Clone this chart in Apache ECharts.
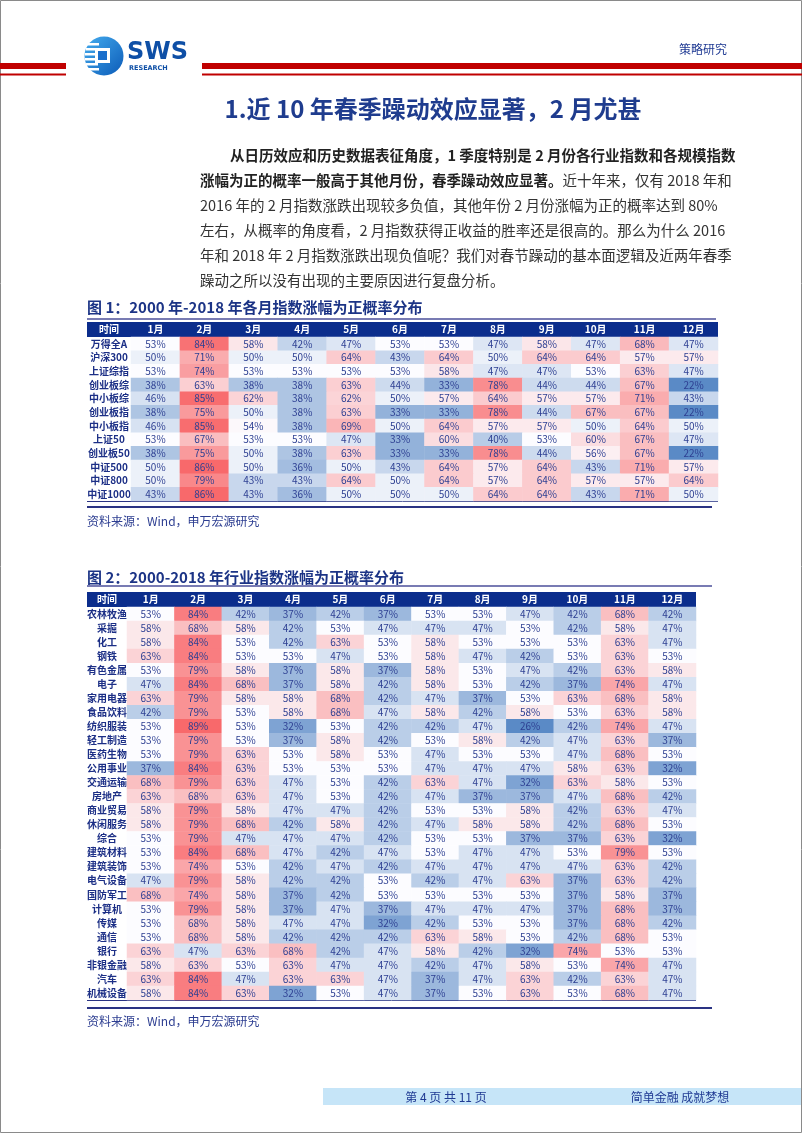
<!DOCTYPE html>
<html>
<head>
<meta charset="utf-8">
<script src="https://cdn.jsdelivr.net/npm/echarts@6/dist/echarts.min.js"></script>
<style>
html, body { margin: 0; padding: 0; background: #fff; }
#main { width: 802px; height: 1133px; }
</style>
</head>
<body>
<div id="main"></div>
<script>
var months = ['1月', '2月', '3月', '4月', '5月', '6月', '7月', '8月', '9月', '10月', '11月', '12月'];

// 图1：各规模指数
var indexNames = ['万得全A', '沪深300', '上证综指', '创业板综', '中小板综', '创业板指', '中小板指', '上证50', '创业板50', '中证500', '中证800', '中证1000'];
var indexValues = [
  [53, 84, 58, 42, 47, 53, 53, 47, 58, 47, 68, 47],
  [50, 71, 50, 50, 64, 43, 64, 50, 64, 64, 57, 57],
  [53, 74, 53, 53, 53, 53, 58, 47, 47, 53, 63, 47],
  [38, 63, 38, 38, 63, 44, 33, 78, 44, 44, 67, 22],
  [46, 85, 62, 38, 62, 50, 57, 64, 57, 57, 71, 43],
  [38, 75, 50, 38, 63, 33, 33, 78, 44, 67, 67, 22],
  [46, 85, 54, 38, 69, 50, 64, 57, 57, 50, 64, 50],
  [53, 67, 53, 53, 47, 33, 60, 40, 53, 60, 67, 47],
  [38, 75, 50, 38, 63, 33, 33, 78, 44, 56, 67, 22],
  [50, 86, 50, 36, 50, 43, 64, 57, 64, 43, 71, 57],
  [50, 79, 43, 43, 64, 50, 64, 57, 64, 57, 57, 64],
  [43, 86, 43, 36, 50, 50, 50, 64, 64, 43, 71, 50]
];

// 图2：行业指数
var industryNames = ['农林牧渔', '采掘', '化工', '钢铁', '有色金属', '电子', '家用电器', '食品饮料', '纺织服装', '轻工制造',
  '医药生物', '公用事业', '交通运输', '房地产', '商业贸易', '休闲服务', '综合', '建筑材料', '建筑装饰', '电气设备',
  '国防军工', '计算机', '传媒', '通信', '银行', '非银金融', '汽车', '机械设备'];
var industryValues = [
  [53, 84, 42, 37, 42, 37, 53, 53, 47, 42, 68, 42],
  [58, 68, 58, 42, 53, 47, 47, 47, 53, 42, 58, 47],
  [58, 84, 53, 42, 63, 53, 58, 53, 53, 53, 63, 47],
  [63, 84, 53, 53, 47, 53, 58, 47, 42, 53, 63, 53],
  [53, 79, 58, 37, 58, 37, 58, 53, 47, 42, 63, 58],
  [47, 84, 68, 37, 58, 42, 58, 53, 42, 37, 74, 47],
  [63, 79, 58, 58, 68, 42, 47, 37, 53, 63, 68, 58],
  [42, 79, 53, 58, 68, 47, 58, 42, 58, 53, 63, 58],
  [53, 89, 53, 32, 53, 42, 42, 47, 26, 42, 74, 47],
  [53, 79, 53, 37, 58, 42, 53, 58, 42, 47, 63, 37],
  [53, 79, 63, 53, 58, 53, 47, 53, 53, 47, 68, 53],
  [37, 84, 63, 53, 53, 53, 47, 47, 47, 58, 63, 32],
  [68, 79, 63, 47, 53, 42, 63, 47, 32, 63, 58, 53],
  [63, 68, 63, 47, 53, 42, 47, 37, 37, 47, 68, 42],
  [58, 79, 58, 47, 47, 42, 53, 53, 58, 42, 63, 47],
  [58, 79, 68, 42, 58, 42, 47, 58, 58, 42, 68, 53],
  [53, 79, 47, 47, 47, 42, 53, 53, 37, 37, 63, 32],
  [53, 84, 68, 47, 42, 47, 53, 47, 47, 53, 79, 53],
  [53, 74, 53, 42, 47, 42, 47, 47, 47, 47, 63, 42],
  [47, 79, 58, 42, 42, 53, 42, 47, 63, 37, 63, 42],
  [68, 74, 58, 37, 42, 53, 53, 53, 53, 37, 58, 37],
  [53, 79, 58, 37, 47, 37, 47, 47, 47, 37, 68, 37],
  [53, 68, 58, 47, 47, 32, 42, 53, 53, 37, 68, 42],
  [53, 68, 58, 42, 42, 42, 63, 58, 53, 42, 68, 53],
  [63, 47, 63, 68, 42, 47, 58, 42, 32, 74, 53, 53],
  [58, 63, 53, 63, 47, 47, 42, 47, 58, 53, 74, 47],
  [63, 84, 47, 63, 63, 47, 37, 47, 63, 42, 63, 47],
  [58, 84, 63, 32, 53, 47, 37, 53, 63, 53, 68, 47]
];

var paragraph = [
  '从日历效应和历史数据表征角度，1 季度特别是 2 月份各行业指数和各规模指数',
  '涨幅为正的概率一般高于其他月份，春季躁动效应显著。',
  '近十年来，仅有 2018 年和',
  '2016 年的 2 月指数涨跌出现较多负值，其他年份 2 月份涨幅为正的概率达到 80%',
  '左右，从概率的角度看，2 月指数获得正收益的胜率还是很高的。那么为什么 2016',
  '年和 2018 年 2 月指数涨跌出现负值呢？我们对春节躁动的基本面逻辑及近两年春季',
  '躁动之所以没有出现的主要原因进行复盘分析。'
];

var FONT = '"Noto Sans CJK SC", "Noto Sans", sans-serif';
var NAVY = '#1c2f86';

function toCells(rows) {
  var out = [];
  rows.forEach(function (row, y) {
    row.forEach(function (v, x) { out.push([x, y, v]); });
  });
  return out;
}
function flat(rows) { return [].concat.apply([], rows); }

// excel style red - white - blue colour scale, white at the middle value
function rgb(h) { return [parseInt(h.substr(1, 2), 16), parseInt(h.substr(3, 2), 16), parseInt(h.substr(5, 2), 16)]; }
function mix(a, b, t) {
  var ca = rgb(a), cb = rgb(b);
  return 'rgb(' + ca.map(function (c, i) { return Math.round(c + (cb[i] - c) * t); }).join(',') + ')';
}
function scaleColors(min, mid, max) {
  var blue = '#5A8AC6', white = '#FCFCFF', red = '#F8696B';
  var out = [];
  for (var v = min; v <= max; v++) {
    out.push(v <= mid ? mix(blue, white, (v - min) / (mid - min)) : mix(white, red, (v - mid) / (max - mid)));
  }
  return out;
}

var min1 = Math.min.apply(null, flat(indexValues)), max1 = Math.max.apply(null, flat(indexValues));
var min2 = Math.min.apply(null, flat(industryValues)), max2 = Math.max.apply(null, flat(industryValues));

function xAxisFor(i) {
  return {
    type: 'category', data: months, gridIndex: i, position: 'top', z: 10,
    axisLine: { show: false }, axisTick: { show: false }, splitLine: { show: false },
    axisLabel: { color: '#fff', fontWeight: 'bold', fontSize: 10, fontFamily: FONT, margin: 7.5, verticalAlign: 'middle' }
  };
}
function yAxisFor(i, names, margin) {
  return {
    type: 'category', data: names, gridIndex: i, inverse: true,
    axisLine: { show: false }, axisTick: { show: false }, splitLine: { show: false },
    axisLabel: { color: NAVY, fontWeight: 'bold', fontSize: 10, fontFamily: FONT, align: 'center', margin: margin, interval: 0 }
  };
}
function heat(i, rows) {
  return {
    type: 'heatmap', xAxisIndex: i, yAxisIndex: i, data: toCells(rows),
    label: { show: true, fontSize: 10, fontFamily: FONT, color: '#2d3f92', formatter: function (p) { return p.value[2] + '%'; } },
    itemStyle: { borderWidth: 0 },
    emphasis: { disabled: true }
  };
}

function line(x1, y1, x2, y2, color, w) {
  return { type: 'line', shape: { x1: x1, y1: y1, x2: x2, y2: y2 }, style: { stroke: color, lineWidth: w } };
}
function txt(x, y, text, size, color, weight, align) {
  return { type: 'text', x: x, y: y, style: { text: text, fontSize: size, fill: color, fontWeight: weight || 'normal', fontFamily: FONT, align: align || 'left', verticalAlign: 'middle' } };
}

var graphics = [
  // page frame
  { type: 'rect', shape: { x: 0.5, y: 0.5, width: 801, height: 1132 }, style: { fill: 'none', stroke: '#8a8a8a', lineWidth: 1 } },
  // red header bars
  { type: 'rect', shape: { x: 0, y: 63, width: 66, height: 6 }, style: { fill: '#c00000' } },
  { type: 'rect', shape: { x: 0, y: 73.5, width: 66, height: 2 }, style: { fill: '#c00000' } },
  { type: 'rect', shape: { x: 202, y: 63, width: 600, height: 6 }, style: { fill: '#c00000' } },
  { type: 'rect', shape: { x: 202, y: 73.5, width: 600, height: 2 }, style: { fill: '#c00000' } },
  // logo
  { type: 'circle', shape: { cx: 104, cy: 56, r: 19.5 }, style: { fill: new echarts.graphic.LinearGradient(0, 0, 1, 1, [{ offset: 0, color: '#45acee' }, { offset: 1, color: '#0b5bb8' }]) } },
  { type: 'rect', shape: { x: 87, y: 43, width: 12, height: 2.5 }, style: { fill: '#fff' } },
  { type: 'rect', shape: { x: 86, y: 48, width: 12, height: 2.5 }, style: { fill: '#fff' } },
  { type: 'rect', shape: { x: 85, y: 53, width: 12, height: 2.5 }, style: { fill: '#fff' } },
  { type: 'rect', shape: { x: 85, y: 58, width: 12, height: 2.5 }, style: { fill: '#fff' } },
  { type: 'rect', shape: { x: 86, y: 63, width: 12, height: 2.5 }, style: { fill: '#fff' } },
  { type: 'rect', shape: { x: 87, y: 68, width: 12, height: 2.5 }, style: { fill: '#fff' } },
  { type: 'rect', shape: { x: 95, y: 48, width: 15, height: 15 }, style: { fill: '#fff' } },
  { type: 'rect', shape: { x: 98, y: 51, width: 9, height: 9 }, style: { fill: '#1b6fcc' } },
  { type: 'text', x: 127, y: 53, style: { text: 'SWS', fontSize: 24, fontWeight: 'bold', fill: '#0e4fa6', fontFamily: 'DejaVu Sans', verticalAlign: 'middle' } },
  { type: 'text', x: 129, y: 68, style: { text: 'RESEARCH', fontSize: 6.5, fontWeight: 'bold', fill: '#0e4fa6', fontFamily: 'DejaVu Sans', verticalAlign: 'middle' } },
  txt(727, 49, '策略研究', 12, '#1f3a93', 'normal', 'right'),
  // page title
  txt(433, 109, '1.近 10 年春季躁动效应显著，2 月尤甚', 24, '#1f3c8e', 'bold', 'center'),
  // paragraph
  txt(230, 155, paragraph[0], 14.5, '#222', 'bold'),
  { type: 'text', x: 200, y: 180, style: { text: '{b|' + paragraph[1] + '}{n|' + paragraph[2] + '}', fontFamily: FONT, verticalAlign: 'middle',
    rich: { b: { fontSize: 14.5, fontWeight: 'bold', fill: '#222', fontFamily: FONT }, n: { fontSize: 14.5, fill: '#333', fontFamily: FONT } } } },
  txt(200, 205, paragraph[3], 14.5, '#333'),
  txt(200, 230, paragraph[4], 14.5, '#333'),
  txt(200, 255, paragraph[5], 14.5, '#333'),
  txt(200, 280, paragraph[6], 14.5, '#333'),
  // figure 1
  txt(87, 307, '图 1：2000 年-2018 年各月指数涨幅为正概率分布', 15, '#1c3486', 'bold'),
  line(87, 319, 716, 319, '#4b4f9a', 1.5),
  { type: 'rect', z: -1, shape: { x: 87, y: 322, width: 631, height: 15 }, style: { fill: '#0b2d8c' } },
  txt(109, 329.5, '时间', 10, '#fff', 'bold', 'center'),
  line(87, 501.5, 718, 501.5, '#2a3383', 1),
  line(87, 507, 712, 507, '#2a3383', 2),
  txt(87, 521, '资料来源：Wind，申万宏源研究', 12, '#2b3c90'),
  // figure 2
  txt(87, 577, '图 2：2000-2018 年行业指数涨幅为正概率分布', 15, '#1c3486', 'bold'),
  line(87, 586, 712, 586, '#4b4f9a', 1.5),
  { type: 'rect', z: -1, shape: { x: 87, y: 592, width: 609, height: 15 }, style: { fill: '#0b2d8c' } },
  txt(107, 599.5, '时间', 10, '#fff', 'bold', 'center'),
  line(87, 1000.5, 696, 1000.5, '#2a3383', 1),
  line(87, 1008, 712, 1008, '#2a3383', 2),
  txt(87, 1021, '资料来源：Wind，申万宏源研究', 12, '#2b3c90'),
  // footer
  { type: 'rect', shape: { x: 323, y: 1088, width: 478, height: 17 }, style: { fill: '#c6e5f8' } },
  txt(446, 1097, '第 4 页 共 11 页', 12, '#1f3a93', 'normal', 'center'),
  txt(680, 1097, '简单金融 成就梦想', 12, '#1f3a93', 'normal', 'center')
];

var myChart = echarts.init(document.getElementById('main'));
var option = {
  animation: false,
  backgroundColor: '#fff',
  grid: [
    { left: 131, top: 337, width: 587, height: 164 },
    { left: 127, top: 607, width: 569, height: 393 }
  ],
  xAxis: [xAxisFor(0), xAxisFor(1)],
  yAxis: [yAxisFor(0, indexNames, 22), yAxisFor(1, industryNames, 20)],
  visualMap: [
    { type: 'continuous', show: false, seriesIndex: 0, min: min1, max: max1, inRange: { color: scaleColors(min1, 53, max1) } },
    { type: 'continuous', show: false, seriesIndex: 1, min: min2, max: max2, inRange: { color: scaleColors(min2, 53, max2) } }
  ],
  series: [heat(0, indexValues), heat(1, industryValues)],
  graphic: graphics
};
myChart.setOption(option);
</script>
</body>
</html>
